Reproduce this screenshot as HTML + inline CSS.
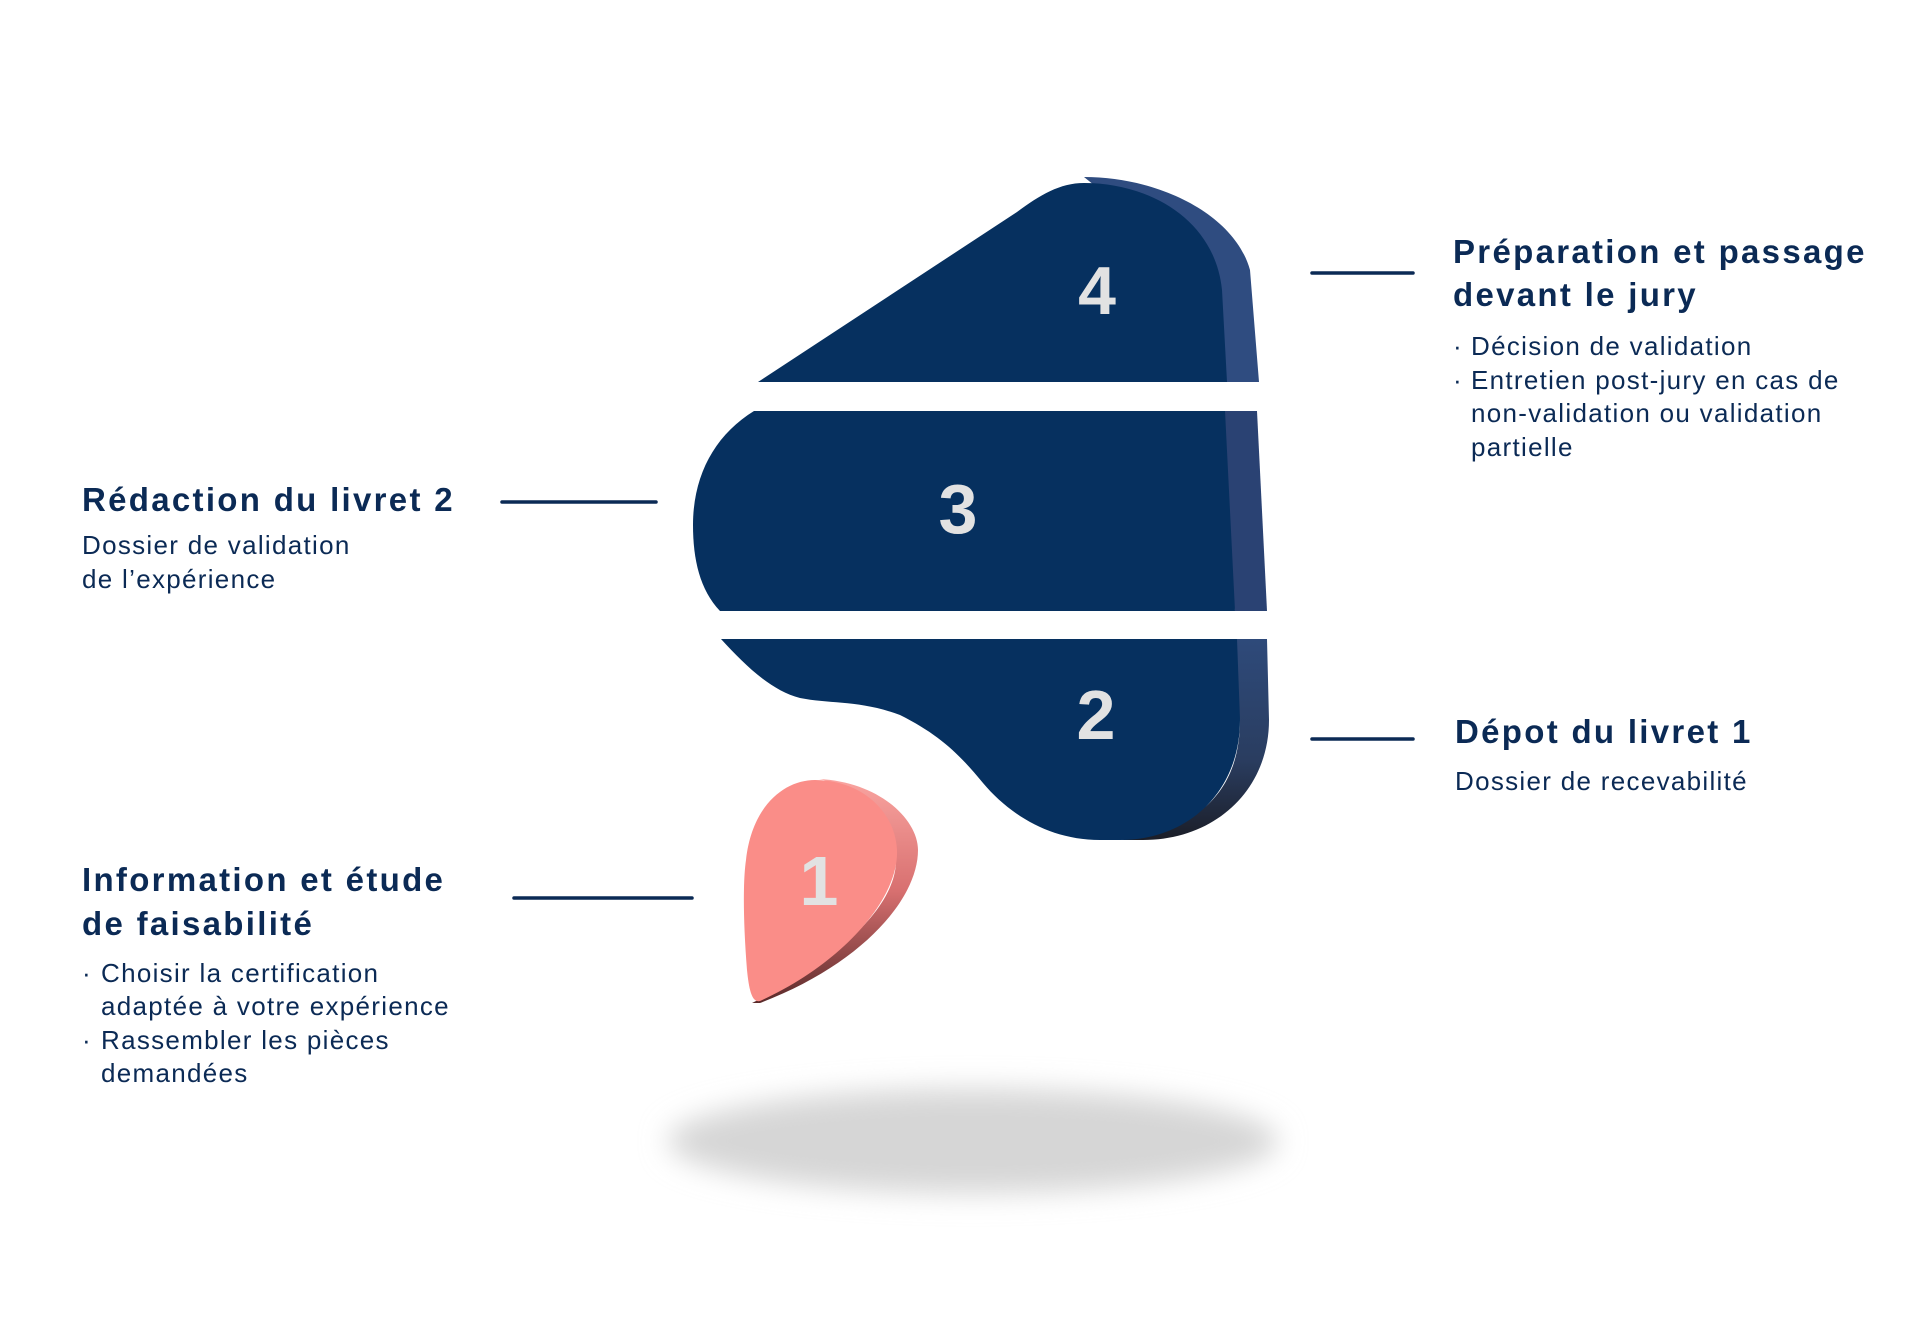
<!DOCTYPE html>
<html><head><meta charset="utf-8"><style>
html,body{margin:0;padding:0;background:#fff;}
svg{display:block}
.t{font-family:"Liberation Sans",sans-serif;fill:#0b2a55}
.h{font-weight:bold;font-size:33px;letter-spacing:2.3px}
.s{font-size:26px;letter-spacing:1.3px}
.n{font-family:"Liberation Sans",sans-serif;font-weight:bold;font-size:70px;fill:#e2e2e2}
</style></head><body>
<svg width="1920" height="1336" viewBox="0 0 1920 1336" xmlns="http://www.w3.org/2000/svg">
<defs>
<filter id="bl" x="-30%" y="-80%" width="160%" height="260%"><feGaussianBlur stdDeviation="14"/></filter>
<linearGradient id="side2" x1="0" y1="0" x2="0" y2="1"><stop offset="0" stop-color="#2e4a7a"/><stop offset="0.6" stop-color="#2a3d60"/><stop offset="1" stop-color="#1b1e28"/></linearGradient>
<linearGradient id="pside" x1="0" y1="0" x2="0" y2="1"><stop offset="0" stop-color="#f9a4a0"/><stop offset="0.5" stop-color="#d87070"/><stop offset="1" stop-color="#5a2a2a"/></linearGradient>
</defs>
<ellipse cx="973" cy="1141" rx="305" ry="52" fill="#d6d6d6" filter="url(#bl)"/>
<path d="M1084,177 C1160,177 1235,215 1250,270 L1259,382 L1200,382 L1200,270 Z" fill="#2f4c80"/>
<path d="M758,382 L1017,212 C1040,195 1060,183 1084,183 C1150,183 1215,220 1222,290 L1227,382 Z" fill="#06305f"/>
<path d="M1200,411 L1257,411 L1267,611 L1235,611 Z" fill="#2a4273"/>
<path d="M754,411 L1225,411 L1235,611 L720,611 C700,590 693,560 693,525 C693,475 715,435 754,411 Z" fill="#06305f"/>
<path d="M1210,639 L1267,639 L1269,720 C1269,790 1215,840 1143,840 L1120,840 C1200,830 1240,790 1240,720 Z" fill="url(#side2)"/>
<path d="M721,639 L1237,639 L1240,720 C1240,790 1190,840 1120,840 L1100,840 C1050,840 1010,815 983,783 C960,755 940,735 900,715 C860,700 830,704 800,698 C770,690 745,665 721,639 Z" fill="#06305f"/>
<path d="M819,779 C880,782 918,820 918,850 C918,900 860,965 760,1003 L752,1003 C840,960 905,900 895,850 C890,820 850,785 819,779 Z" fill="url(#pside)"/>
<path d="M815,780 C860,780 895,810 897,850 C899,900 840,965 760,1001 C752,1003 749,990 747,970 C743,920 743,880 746,860 C752,805 785,780 815,780 Z" fill="#fa8d88"/>
<text class="n" x="1097" y="314" text-anchor="middle" style="font-size:68px">4</text>
<text class="n" x="958" y="533" text-anchor="middle">3</text>
<text class="n" x="1096" y="739" text-anchor="middle">2</text>
<text class="n" x="819" y="905" text-anchor="middle">1</text>
<g stroke="#0b2a55" stroke-width="3.5" stroke-linecap="round">
<line x1="502" y1="502" x2="656" y2="502"/>
<line x1="514" y1="898" x2="692" y2="898"/>
<line x1="1312" y1="273" x2="1413" y2="273"/>
<line x1="1312" y1="739" x2="1413" y2="739"/>
</g>
<text class="t h" x="82" y="511">Rédaction du livret 2</text>
<text class="t s" x="82" y="554">Dossier de validation</text>
<text class="t s" x="82" y="588">de l’expérience</text>
<text class="t h" x="82" y="891">Information et étude</text>
<text class="t h" x="82" y="935">de faisabilité</text>
<text class="t s" x="82" y="982">·</text><text class="t s" x="101" y="982">Choisir la certification</text>
<text class="t s" x="101" y="1015">adaptée à votre expérience</text>
<text class="t s" x="82" y="1049">·</text><text class="t s" x="101" y="1049">Rassembler les pièces</text>
<text class="t s" x="101" y="1082">demandées</text>
<text class="t h" x="1453" y="263">Préparation et passage</text>
<text class="t h" x="1453" y="306">devant le jury</text>
<text class="t s" x="1453" y="355">·</text><text class="t s" x="1471" y="355">Décision de validation</text>
<text class="t s" x="1453" y="389">·</text><text class="t s" x="1471" y="389">Entretien post-jury en cas de</text>
<text class="t s" x="1471" y="422">non-validation ou validation</text>
<text class="t s" x="1471" y="456">partielle</text>
<text class="t h" x="1455" y="743">Dépot du livret 1</text>
<text class="t s" x="1455" y="790">Dossier de recevabilité</text>
</svg>
</body></html>
